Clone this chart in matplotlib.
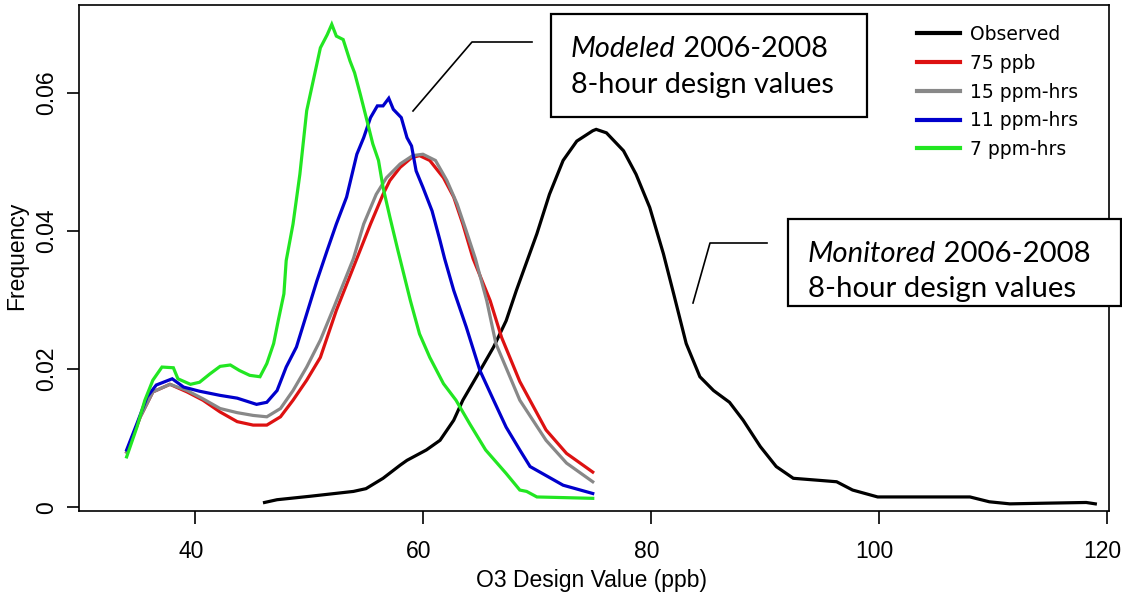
import matplotlib
matplotlib.use("Agg")
import matplotlib.pyplot as plt
import matplotlib.transforms as mtransforms
from matplotlib.patches import Rectangle
from matplotlib.lines import Line2D
from matplotlib.text import Annotation

# O3 design value distributions (ppb vs. frequency)
obs_x = [46.1, 47.2, 50.1, 53.9, 55.0, 56.5, 58.0, 58.6, 60.3, 61.5, 62.7, 63.5, 64.7, 66.2, 67.3, 68.2,
         70.0, 71.1, 72.3, 73.5, 74.9, 75.2, 76.1, 77.6, 78.7, 79.9, 81.1, 82.0, 83.1, 84.3, 85.5, 86.9,
         88.1, 89.6, 91.0, 92.5, 94.8, 96.3, 97.7, 99.9, 108.0, 109.7, 111.5, 114.7, 118.2, 119.0]
obs_y = [0.0007, 0.0011, 0.0016, 0.0023, 0.0027, 0.0042, 0.0061, 0.0068, 0.0083, 0.0097, 0.0126, 0.0155,
         0.0189, 0.0232, 0.0270, 0.0314, 0.0396, 0.0453, 0.0502, 0.0530, 0.0545, 0.0547, 0.0542, 0.0516,
         0.0482, 0.0434, 0.0367, 0.0309, 0.0237, 0.0189, 0.0169, 0.0152, 0.0126, 0.0088, 0.0059, 0.0042,
         0.0039, 0.0037, 0.0025, 0.0015, 0.0015, 0.0008, 0.0005, 0.0006, 0.0007, 0.0005]

ppb75_x = [34.0, 35.2, 36.3, 37.8, 39.3, 40.7, 42.2, 43.7, 45.1, 46.3, 47.5, 48.6, 49.8, 51.0, 52.4, 54.2,
           55.4, 56.5, 57.1, 58.0, 59.0, 59.7, 60.6, 61.8, 62.7, 63.5, 64.4, 65.9, 66.9, 68.5, 70.8, 72.6, 74.9]
ppb75_y = [0.0080, 0.0131, 0.0167, 0.0178, 0.0167, 0.0155, 0.0138, 0.0124, 0.0119, 0.0119, 0.0131, 0.0155,
           0.0184, 0.0217, 0.0285, 0.0360, 0.0410, 0.0453, 0.0473, 0.0492, 0.0506, 0.0509, 0.0502, 0.0477,
           0.0449, 0.0410, 0.0360, 0.0299, 0.0246, 0.0182, 0.0112, 0.0078, 0.0051]

hrs15_x = [34.0, 35.2, 36.3, 37.8, 39.3, 40.7, 42.2, 43.7, 45.1, 46.3, 47.5, 48.6, 49.8, 51.0, 52.2, 53.9,
           54.8, 55.9, 56.8, 58.0, 59.1, 60.0, 61.1, 62.1, 63.0, 63.8, 64.6, 65.6, 66.4, 68.5, 70.8, 72.6, 74.9]
hrs15_y = [0.0080, 0.0131, 0.0167, 0.0178, 0.0169, 0.0157, 0.0143, 0.0137, 0.0133, 0.0131, 0.0143, 0.0169,
           0.0203, 0.0242, 0.0290, 0.0360, 0.0410, 0.0453, 0.0477, 0.0497, 0.0509, 0.0511, 0.0502, 0.0473,
           0.0439, 0.0400, 0.0360, 0.0299, 0.0237, 0.0155, 0.0097, 0.0064, 0.0037]

hrs11_x = [34.0, 34.9, 35.8, 36.6, 38.0, 39.0, 40.4, 42.2, 43.7, 45.4, 46.3, 47.2, 48.0, 48.9, 49.8, 50.7,
           51.6, 52.4, 53.3, 54.2, 54.8, 55.4, 56.0, 56.5, 57.0, 57.4, 58.1, 58.6, 59.0, 59.4, 60.0, 60.8,
           61.5, 61.9, 62.7, 63.8, 65.0, 66.2, 67.3, 68.5, 69.4, 72.3, 74.9]
hrs11_y = [0.0083, 0.0121, 0.0160, 0.0177, 0.0186, 0.0174, 0.0168, 0.0162, 0.0158, 0.0149, 0.0152, 0.0169,
           0.0203, 0.0232, 0.0280, 0.0328, 0.0372, 0.0410, 0.0449, 0.0511, 0.0535, 0.0564, 0.0581, 0.0581,
           0.0592, 0.0576, 0.0564, 0.0535, 0.0523, 0.0487, 0.0463, 0.0429, 0.0386, 0.0360, 0.0314, 0.0261,
           0.0198, 0.0155, 0.0116, 0.0083, 0.0059, 0.0032, 0.0020]

hrs7_x = [34.0, 34.9, 35.6, 36.3, 37.1, 38.1, 38.5, 39.6, 40.4, 41.3, 42.2, 43.1, 43.9, 44.8, 45.7, 46.3,
          46.9, 47.3, 47.8, 48.0, 48.6, 49.2, 49.8, 51.0, 51.6, 52.0, 52.4, 53.0, 53.6, 54.0, 54.5, 55.1,
          55.6, 56.1, 56.5, 57.1, 57.8, 58.9, 59.7, 60.6, 61.8, 62.9, 64.1, 65.5, 67.3, 68.5, 69.1, 70.0, 74.9]
hrs7_y = [0.0073, 0.0116, 0.0155, 0.0184, 0.0203, 0.0202, 0.0186, 0.0178, 0.0181, 0.0193, 0.0204, 0.0206,
          0.0198, 0.0191, 0.0189, 0.0208, 0.0237, 0.0270, 0.0309, 0.0357, 0.0410, 0.0482, 0.0574, 0.0665,
          0.0684, 0.0699, 0.0682, 0.0677, 0.0646, 0.0629, 0.0598, 0.0559, 0.0526, 0.0502, 0.0463, 0.0420,
          0.0372, 0.0299, 0.0251, 0.0217, 0.0179, 0.0155, 0.0121, 0.0083, 0.0049, 0.0025, 0.0023, 0.0015, 0.0013]

series = [
    ("Observed", obs_x, obs_y, "black"),
    ("75 ppb", ppb75_x, ppb75_y, "#dd1111"),
    ("15 ppm-hrs", hrs15_x, hrs15_y, "#888888"),
    ("11 ppm-hrs", hrs11_x, hrs11_y, "#0000cc"),
    ("7 ppm-hrs", hrs7_x, hrs7_y, "#22e622"),
]

x_ticks = [40, 60, 80, 100, 120]
y_ticks = [0, 0.02, 0.04, 0.06]
y_tick_labels = ["0", "0.02", "0.04", "0.06"]

W, H = 1122, 592
axis_font = ["Liberation Sans", "DejaVu Sans"]
box_font = ["Lato", "DejaVu Sans"]

fig = plt.figure(figsize=(W / 100, H / 100), dpi=100)
ax = fig.add_axes([79 / W, 1 - 510.7 / H, (1109 - 79) / W, (510.7 - 5) / H])


def fx(px):
    return px / W


def fy(py):
    return 1 - py / H


for label, xs, ys, color in series:
    ax.plot(xs, ys, color=color, lw=2.3, label=label, solid_joinstyle="miter")

ax.set_xlim(29.82, 120.2)
ax.set_ylim(-0.00049, 0.0727)
ax.set_xticks(x_ticks)
ax.set_xticklabels([str(t) for t in x_ticks], family=axis_font, fontsize=16.5)
ax.set_yticks(y_ticks)
ax.set_yticklabels(y_tick_labels, family=axis_font, fontsize=16.5, rotation=90, va="center")
ax.tick_params(direction="out", length=9, width=1.2, pad=6)
ax.tick_params(axis="x", pad=12)
for sp in ax.spines.values():
    sp.set_linewidth(1.2)

# nudge x tick labels a few pixels left so the last one stays on the canvas
shift = mtransforms.ScaledTranslation(-4 / 100, 0, fig.dpi_scale_trans)
for lbl in ax.get_xticklabels():
    lbl.set_transform(lbl.get_transform() + shift)

ax.set_xlabel("O3 Design Value (ppb)", family=axis_font, fontsize=16.5)
ax.set_ylabel("Frequency", family=axis_font, fontsize=16.5)
ax.xaxis.set_label_coords((591 - 79) / (1109 - 79), -(580 - 510.7) / (510.7 - 5), transform=ax.transAxes)
ax.yaxis.set_label_coords(-(79 - 17) / (1109 - 79), (510.7 - 256) / (510.7 - 5), transform=ax.transAxes)
ax.xaxis.label.set_va("center")
ax.yaxis.label.set_va("center")

leg = ax.legend(loc="upper left", bbox_to_anchor=(fx(917), fy(25)), bbox_transform=fig.transFigure,
                frameon=False, prop={"family": "DejaVu Sans", "size": 13.5},
                handlelength=2.3, handletextpad=0.55, labelspacing=0.52, borderpad=0, borderaxespad=0)
for h in leg.get_lines():
    h.set_linewidth(3)


# callout boxes with leader lines
def callout(x0, y0, x1, y1, lead, tx, base1, base2, word, size):
    fig.add_artist(Rectangle((fx(x0), fy(y1)), fx(x1) - fx(x0), fy(y0) - fy(y1),
                             transform=fig.transFigure, facecolor="white", edgecolor="black", lw=1.6,
                             zorder=5))
    fig.add_artist(Line2D([fx(p[0]) for p in lead], [fy(p[1]) for p in lead],
                          transform=fig.transFigure, color="black", lw=1.2, zorder=5))
    t1 = fig.text(fx(tx), fy(base1), word, style="italic", family=box_font, fontsize=size,
                  va="baseline", zorder=6)
    fig.add_artist(Annotation(" 2006-2008", xy=(1, 0), xycoords=t1, va="bottom", ha="left",
                              family=box_font, fontsize=size, zorder=6))
    fig.text(fx(tx), fy(base2), "8-hour design values", family=box_font, fontsize=size,
             va="baseline", zorder=6)


callout(551, 14, 867, 117, [(532, 42), (472, 42), (413, 111)], 571, 57, 93, "Modeled", 20.8)
callout(788, 219, 1121, 306, [(767, 243), (710, 243), (693, 303)], 808, 262, 297, "Monitored", 21.2)

fig.savefig("out.png", dpi=100)
